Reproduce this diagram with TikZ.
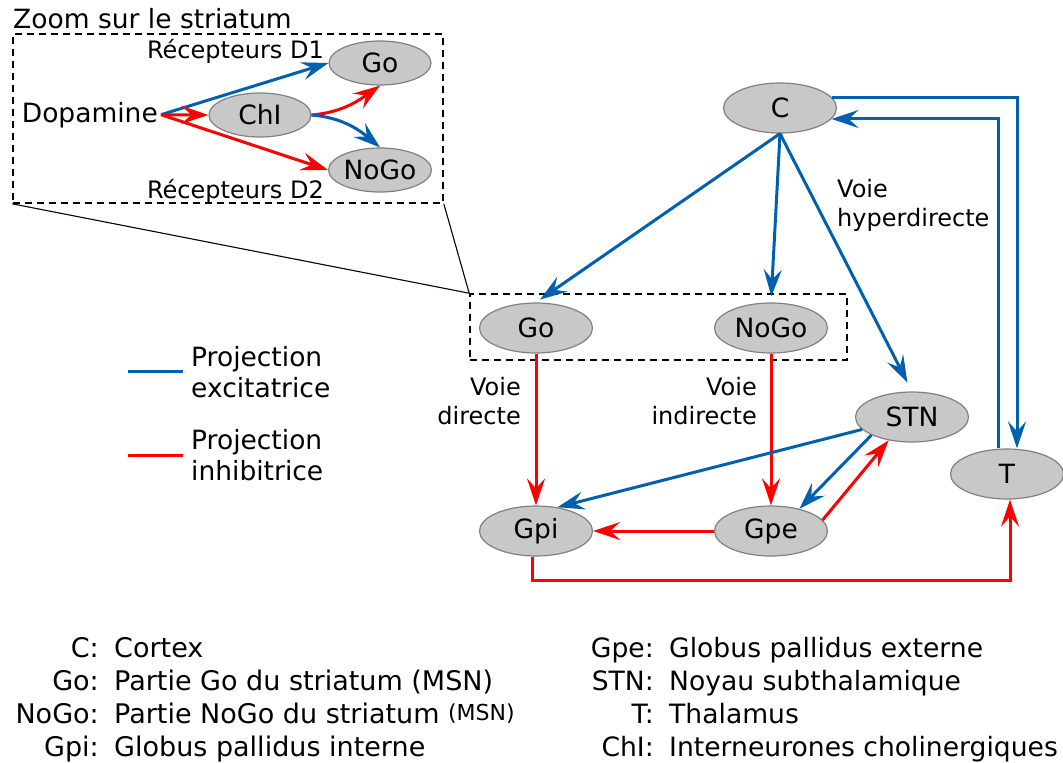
\documentclass[tikz,border=0pt]{standalone}
\usepackage{fontspec}
\setmainfont{DejaVu Sans}
\usetikzlibrary{arrows.meta,shapes.geometric}
\definecolor{exc}{RGB}{0,96,176}
\definecolor{inh}{RGB}{255,0,0}
\definecolor{nucfill}{RGB}{200,200,200}
\definecolor{nucline}{RGB}{128,128,128}
\begin{document}
\begin{tikzpicture}[x=1pt,y=-1pt,
  every node/.style={font=\fontsize{26.5}{31}\selectfont},
  nucleus/.style={ellipse,draw=nucline,fill=nucfill,line width=1.2pt,inner sep=0pt,minimum width=113pt,minimum height=50pt},
  smallnuc/.style={nucleus,minimum width=102pt,minimum height=44pt},
  tip/.style={-{Stealth[length=27pt,width=18pt,inset=10pt]}},
  excit/.style={tip,draw=exc,line width=3pt},
  inhib/.style={tip,draw=inh,line width=3pt},
  zoomframe/.style={draw,dashed,dash pattern=on 7pt off 5pt,line width=1.6pt,inner sep=0pt},
  lbl/.style={font=\fontsize{24}{29}\selectfont,inner sep=0pt},
  gloss/.style={inner sep=0pt,font=\fontsize{27}{31}\selectfont},
  glossr/.style={inner sep=0pt,font=\fontsize{26.6}{31}\selectfont}
]
\useasboundingbox (0,0) rectangle (1063,763);

% ---- inset: dopamine action inside the striatum ----
\node[anchor=base west,inner sep=0pt] (title) at (13,28) {Zoom sur le striatum};
\node[zoomframe,minimum width=430pt,minimum height=169pt] (zoombox) at (228,118.5) {};
\node[anchor=base east,inner sep=3pt] (dopa) at (161,122) {Dopamine};
\node[smallnuc] (zgo) at (380,63) {Go};
\node[smallnuc] (zchi) at (260,115) {ChI};
\node[smallnuc] (znogo) at (380,170) {NoGo};
\node[lbl,anchor=base east] (d1) at (324,58) {Récepteurs D1};
\node[lbl,anchor=base east] (d2) at (324,198) {Récepteurs D2};

\draw[excit] (dopa.east) -- (zgo.west);
\draw[inhib] (dopa.east) -- (zchi.west);
\draw[inhib] (dopa.east) -- (znogo.west);
\draw[inhib] (zchi.east) to[out=5,in=215] (zgo.south);
\draw[excit] (zchi.east) to[out=-5,in=140] (znogo.north);

% ---- main loop ----
\node[zoomframe,minimum width=377pt,minimum height=66pt] (mainbox) at (658.5,327) {};
\draw[line width=1.1pt] (zoombox.south west) -- (mainbox.north west);
\draw[line width=1.1pt] (zoombox.south east) -- (mainbox.north west);

\node[nucleus] (C) at (780,108) {C};
\node[nucleus] (Go) at (536,328) {Go};
\node[nucleus] (NoGo) at (771,328) {NoGo};
\node[nucleus] (Gpi) at (536,531) {Gpi};
\node[nucleus] (Gpe) at (771,531) {Gpe};
\node[nucleus] (STN) at (912,417) {STN};
\node[nucleus] (T) at (1007,474) {T};

\draw[excit,shorten >=5pt] (C.south) -- (Go.north);
\draw[excit,shorten >=6pt] (C.south) -- (NoGo.north);
\draw[excit,shorten >=10pt] (C.south) -- (STN.north);
\draw[excit] (C.12) -| ([xshift=10pt]T.north);
\draw[excit] ([xshift=-9pt]T.north) |- (C.-12);

\draw[inhib] (Go.south) -- (Gpi.north);
\draw[inhib] (NoGo.south) -- (Gpe.north);
\draw[inhib] (Gpe.west) -- (Gpi.east);
\draw[excit] (STN.194) -- (Gpi.48);
\draw[excit] (STN.204) -- (Gpe.38);
\draw[inhib] (Gpe.12) -- (STN.225);
\draw[inhib] ([xshift=-4pt]Gpi.south) -- ++(0,24) -| ([xshift=3pt]T.south);

\node[lbl,align=right,anchor=east] (vd) at (521,401) {Voie\\directe};
\node[lbl,align=right,anchor=east] (vi) at (757,401) {Voie\\indirecte};
\node[lbl,align=left,anchor=west] (vh) at (837,205) {Voie\\hyperdirecte};

% ---- legend ----
\coordinate (exA) at (128,371);
\coordinate (exB) at (183,371);
\coordinate (inA) at (128,455);
\coordinate (inB) at (183,455);
\draw[exc,line width=3pt] (exA) -- (exB);
\draw[inh,line width=3pt] (inA) -- (inB);
\node[align=left,anchor=west,inner sep=0pt,font=\fontsize{26.5}{31}\selectfont] (lex) at (191,372) {Projection\\excitatrice};
\node[align=left,anchor=west,inner sep=0pt,font=\fontsize{26.5}{31}\selectfont] (lin) at (191,455) {Projection\\inhibitrice};

% ---- abbreviations ----
\node[gloss,anchor=base east] (kC) at (99,657) {C:};
\node[gloss,anchor=base west] (vC) at (114,657) {Cortex};
\node[gloss,anchor=base east] (kGo) at (99,690) {Go:};
\node[gloss,anchor=base west] (vGo) at (114,690) {Partie Go du striatum (MSN)};
\node[gloss,anchor=base east] (kNo) at (99,723) {NoGo:};
\node[gloss,anchor=base west] (vNo) at (114,723) {Partie NoGo du striatum {\fontsize{22}{24}\selectfont\raisebox{3pt}{(MSN)}}};
\node[gloss,anchor=base east] (kGpi) at (99,756) {Gpi:};
\node[gloss,anchor=base west] (vGpi) at (114,756) {Globus pallidus interne};

\node[glossr,anchor=base east] (kGpe) at (654,657) {Gpe:};
\node[glossr,anchor=base west] (vGpe) at (669,657) {Globus pallidus externe};
\node[glossr,anchor=base east] (kSTN) at (654,690) {STN:};
\node[glossr,anchor=base west] (vSTN) at (669,690) {Noyau subthalamique};
\node[glossr,anchor=base east] (kT) at (654,723) {T:};
\node[glossr,anchor=base west] (vT) at (669,723) {Thalamus};
\node[glossr,anchor=base east] (kChI) at (654,756) {ChI:};
\node[glossr,anchor=base west] (vChI) at (669,756) {Interneurones cholinergiques};
\end{tikzpicture}
\end{document}
